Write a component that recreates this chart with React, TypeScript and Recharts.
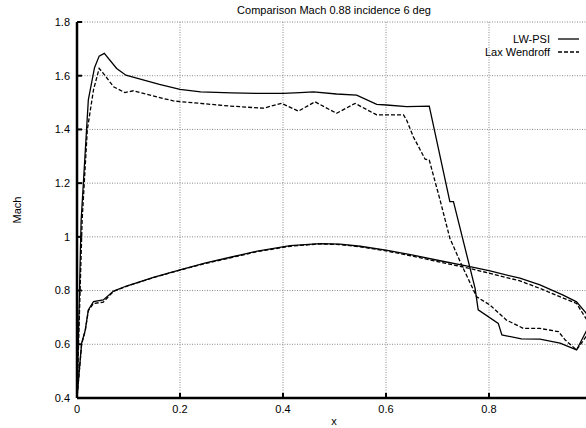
import React from 'react';
import { LineChart, Line, XAxis, YAxis, CartesianGrid } from 'recharts';

// LW-PSI, suction side (leading edge -> trailing edge)
const psiUpperX = [0, 0.008, 0.022, 0.034, 0.043, 0.053, 0.077, 0.095, 0.13, 0.16, 0.2, 0.24, 0.3, 0.35, 0.4, 0.433, 0.459, 0.504, 0.543, 0.582, 0.601, 0.64, 0.684, 0.724, 0.731, 0.773, 0.779, 0.818, 0.825, 0.863, 0.899, 0.938, 0.97, 1.0];
const psiUpperM = [0.4, 1.06, 1.51, 1.63, 1.673, 1.683, 1.627, 1.602, 1.584, 1.568, 1.549, 1.54, 1.536, 1.534, 1.534, 1.537, 1.54, 1.532, 1.528, 1.493, 1.491, 1.485, 1.487, 1.131, 1.131, 0.808, 0.728, 0.678, 0.635, 0.62, 0.619, 0.604, 0.579, 0.69];
// LW-PSI, pressure side (trailing edge -> leading edge)
const psiLowerX = [1.0, 0.97, 0.944, 0.899, 0.86, 0.802, 0.763, 0.705, 0.65, 0.6, 0.55, 0.511, 0.472, 0.414, 0.35, 0.3, 0.25, 0.2, 0.15, 0.096, 0.071, 0.051, 0.032, 0.022, 0.016, 0.009, 0];
const psiLowerM = [0.69, 0.758, 0.783, 0.821, 0.846, 0.873, 0.889, 0.911, 0.933, 0.951, 0.965, 0.973, 0.975, 0.967, 0.947, 0.925, 0.903, 0.877, 0.85, 0.817, 0.798, 0.765, 0.759, 0.728, 0.653, 0.604, 0.4];

// Lax Wendroff, suction side
const lwUpperX = [0, 0.01, 0.02, 0.032, 0.043, 0.051, 0.071, 0.093, 0.109, 0.142, 0.187, 0.239, 0.297, 0.362, 0.397, 0.43, 0.462, 0.504, 0.54, 0.582, 0.634, 0.64, 0.653, 0.676, 0.684, 0.705, 0.724, 0.747, 0.776, 0.802, 0.834, 0.867, 0.899, 0.935, 0.948, 0.97, 1.0];
const lwUpperM = [0.4, 1.063, 1.398, 1.547, 1.627, 1.609, 1.559, 1.537, 1.544, 1.528, 1.506, 1.497, 1.487, 1.479, 1.497, 1.468, 1.503, 1.46, 1.497, 1.454, 1.454, 1.435, 1.373, 1.289, 1.286, 1.137, 0.995, 0.895, 0.777, 0.746, 0.69, 0.659, 0.659, 0.647, 0.616, 0.579, 0.66];
// Lax Wendroff, pressure side
const lwLowerX = [1.0, 0.97, 0.944, 0.899, 0.86, 0.802, 0.763, 0.705, 0.65, 0.6, 0.55, 0.511, 0.472, 0.414, 0.35, 0.3, 0.25, 0.2, 0.15, 0.096, 0.071, 0.051, 0.032, 0.022, 0.016, 0.009, 0];
const lwLowerM = [0.66, 0.752, 0.772, 0.808, 0.836, 0.864, 0.882, 0.906, 0.929, 0.948, 0.963, 0.971, 0.974, 0.965, 0.945, 0.923, 0.901, 0.876, 0.849, 0.816, 0.797, 0.757, 0.752, 0.725, 0.65, 0.6, 0.4];

const xTicks = [0, 0.2, 0.4, 0.6, 0.8];
const yTicks = [0.4, 0.6, 0.8, 1, 1.2, 1.4, 1.6, 1.8];

const titleText = 'Comparison Mach 0.88 incidence 6 deg';
const xLabel = 'x';
const yLabel = 'Mach';
const seriesNames = ['LW-PSI', 'Lax Wendroff'];

const toPoints = (xs: number[], ms: number[]) => xs.map((x, i) => ({ x, m: ms[i] }));
const psiData = [...toPoints(psiUpperX, psiUpperM), ...toPoints(psiLowerX, psiLowerM)];
const lwData = [...toPoints(lwUpperX, lwUpperM), ...toPoints(lwLowerX, lwLowerM)];

const FONT = '"Liberation Sans", Arial, Helvetica, sans-serif';
const fmt = (v: number) => String(Math.round(v * 10) / 10);
const tickStyle = { fill: '#000', fontSize: 11, fontFamily: FONT };
const axisLineStyle = { stroke: '#000', strokeWidth: 2.5 };
const tickLineStyle = { stroke: '#000', strokeWidth: 2 };

export default function App() {
  return (
    <div style={{ position: 'absolute', left: 0, top: 0, width: 586, height: 428, overflow: 'hidden', background: '#fff' }}>
      <LineChart width={600} height={428} margin={{ top: 22, right: 8, bottom: 0, left: 0 }}>
        <CartesianGrid stroke="#888" strokeDasharray="1 1.5" strokeWidth={1} />
        <XAxis
          dataKey="x"
          type="number"
          domain={[0, 1]}
          ticks={xTicks}
          allowDataOverflow
          height={30}
          tickSize={-5}
          tickMargin={12}
          axisLine={axisLineStyle}
          tickLine={tickLineStyle}
          tick={tickStyle}
          tickFormatter={fmt}
        />
        <XAxis
          xAxisId="top"
          orientation="top"
          type="number"
          domain={[0, 1]}
          ticks={xTicks}
          allowDataOverflow
          height={0}
          tickSize={-5}
          tickMargin={0}
          axisLine={axisLineStyle}
          tickLine={tickLineStyle}
          tick={tickStyle}
          tickFormatter={() => ''}
        />
        <YAxis
          type="number"
          domain={[0.4, 1.8]}
          ticks={yTicks}
          allowDataOverflow
          width={77}
          tickSize={-5}
          tickMargin={12}
          axisLine={axisLineStyle}
          tickLine={tickLineStyle}
          tick={tickStyle}
          tickFormatter={fmt}
        />
        <Line
          data={psiData}
          dataKey="m"
          name={seriesNames[0]}
          type="linear"
          stroke="#000"
          strokeWidth={1.3}
          dot={false}
          activeDot={false}
          isAnimationActive={false}
        />
        <Line
          data={lwData}
          dataKey="m"
          name={seriesNames[1]}
          type="linear"
          stroke="#000"
          strokeWidth={1.3}
          strokeDasharray="4 2"
          dot={false}
          activeDot={false}
          isAnimationActive={false}
        />
      </LineChart>
      <svg width={586} height={428} style={{ position: 'absolute', left: 0, top: 0, pointerEvents: 'none' }}>
        <text x={334} y={14} textAnchor="middle" fontSize={11} fontFamily={FONT} fill="#000">{titleText}</text>
        <text x={334} y={425} textAnchor="middle" fontSize={11} fontFamily={FONT} fill="#000">{xLabel}</text>
        <text x={21} y={210} textAnchor="middle" fontSize={11} fontFamily={FONT} fill="#000" transform="rotate(-90 21 210)">{yLabel}</text>
        <text x={550} y={43} textAnchor="end" fontSize={11} fontFamily={FONT} fill="#000">{seriesNames[0]}</text>
        <line x1={558} x2={579} y1={39} y2={39} stroke="#000" strokeWidth={1.3} />
        <text x={550} y={56} textAnchor="end" fontSize={11} fontFamily={FONT} fill="#000">{seriesNames[1]}</text>
        <line x1={558} x2={579} y1={52} y2={52} stroke="#000" strokeWidth={1.3} strokeDasharray="4 2" />
      </svg>
    </div>
  );
}
